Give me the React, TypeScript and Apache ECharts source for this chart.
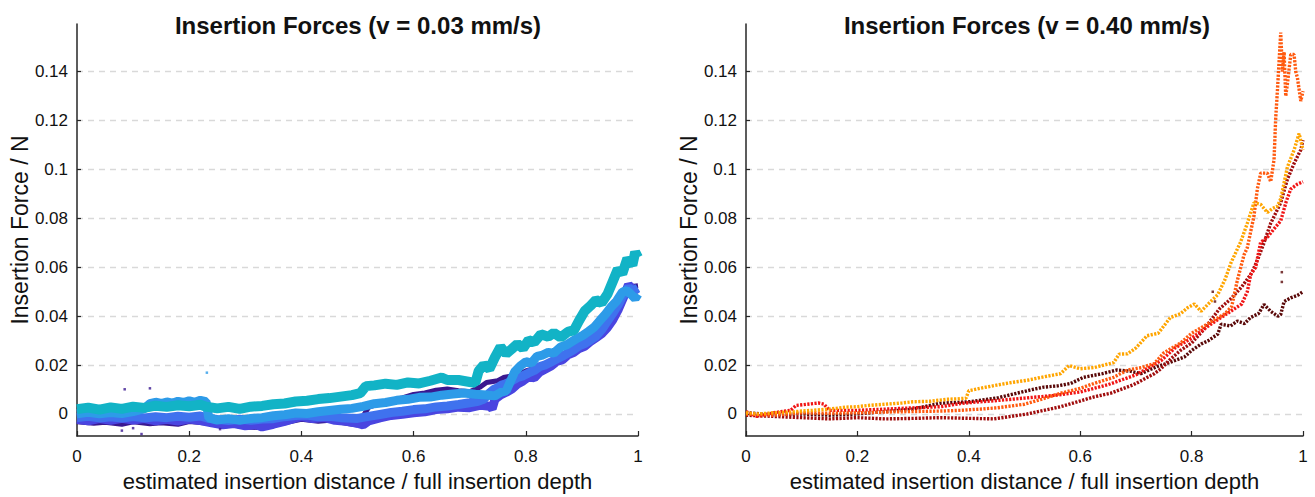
import React, { useEffect, useRef } from "react";
import * as echarts from "echarts";

type Pt = [number, number];

const TITLE_LEFT = "Insertion Forces (v = 0.03 mm/s)";
const TITLE_RIGHT = "Insertion Forces (v = 0.40 mm/s)";
const X_NAME = "estimated insertion distance / full insertion depth";
const Y_NAME = "Insertion Force / N";

const X_MIN = 0;
const X_MAX = 1;
const X_STEP = 0.2;
const Y_MIN = -0.009;
const Y_MAX = 0.1595;
const Y_STEP = 0.02;

// ---- v = 0.03 mm/s (blue family) ----
const slowIndigo: Pt[] = [
  [0, -0.0032], [0.03, -0.0038], [0.05, -0.0034], [0.08, -0.0042], [0.1, -0.0032], [0.13, -0.004],
  [0.15, -0.0036], [0.18, -0.0042], [0.2, -0.0031], [0.23, -0.0037], [0.26, -0.0049], [0.28, -0.0045],
  [0.3, -0.0053], [0.33, -0.0056], [0.35, -0.0046], [0.37, -0.0036], [0.4, -0.0022], [0.43, -0.003],
  [0.45, -0.0026], [0.48, -0.0038], [0.5, -0.0045], [0.52, 0.0028], [0.54, 0.0042], [0.56, 0.0056],
  [0.58, 0.0066], [0.6, 0.008], [0.62, 0.0086], [0.64, 0.0097], [0.66, 0.0102], [0.68, 0.0095],
  [0.7, 0.0091], [0.72, 0.0112], [0.73, 0.0129], [0.75, 0.0136], [0.76, 0.0149], [0.78, 0.0157],
  [0.8, 0.0176], [0.82, 0.019], [0.85, 0.0216], [0.87, 0.0242], [0.9, 0.0292], [0.92, 0.0316],
  [0.95, 0.0396], [0.97, 0.0452], [0.98, 0.0496], [0.99, 0.0522], [1.0, 0.0525],
];
const slowViolet: Pt[] = [
  [0, -0.0022], [0.02, -0.0028], [0.04, -0.0019], [0.06, -0.0026], [0.08, -0.0018], [0.1, -0.0025],
  [0.12, -0.0019], [0.14, -0.0028], [0.16, -0.0022], [0.18, -0.0029], [0.2, -0.0021], [0.22, -0.0027],
  [0.24, -0.0036], [0.26, -0.0044], [0.28, -0.0039], [0.3, -0.0048], [0.32, -0.0044], [0.33, -0.0053],
  [0.35, -0.0042], [0.37, -0.003], [0.39, -0.0016], [0.4, -0.0011], [0.42, -0.0019], [0.44, -0.0014],
  [0.46, -0.0026], [0.48, -0.003], [0.5, -0.0038], [0.51, -0.0045], [0.52, -0.0028], [0.54, -0.0016],
  [0.56, -0.0006], [0.58, -0.0001], [0.6, 0.0005], [0.62, 0.0009], [0.64, 0.0018], [0.66, 0.0021],
  [0.68, 0.0028], [0.7, 0.0026], [0.72, 0.0036], [0.735, 0.0032], [0.74, 0.0022], [0.745, 0.006],
  [0.755, 0.0078], [0.765, 0.0089], [0.775, 0.0102], [0.785, 0.0122], [0.795, 0.0135], [0.805, 0.0152],
  [0.815, 0.0148], [0.825, 0.0172], [0.835, 0.0184], [0.845, 0.0196], [0.855, 0.0215], [0.865, 0.0221],
  [0.875, 0.0242], [0.885, 0.0251], [0.895, 0.0268], [0.905, 0.0277], [0.915, 0.0296], [0.925, 0.0312],
  [0.935, 0.0328], [0.945, 0.0352], [0.955, 0.0385], [0.965, 0.0428], [0.975, 0.0482], [0.983, 0.0528],
  [0.99, 0.0512], [0.995, 0.0488], [1.0, 0.049],
];
const slowRoyal: Pt[] = [
  [0, -0.0015], [0.02, -0.0009], [0.04, -0.0016], [0.06, -0.0011], [0.08, -0.0017], [0.1, -0.001],
  [0.12, -0.0016], [0.14, -0.0011], [0.16, -0.0015], [0.18, -0.0009], [0.2, -0.0013], [0.22, -0.0008],
  [0.235, -0.0018], [0.25, -0.0022], [0.27, -0.0027], [0.29, -0.0021], [0.31, -0.0026], [0.33, -0.0021],
  [0.35, -0.0019], [0.37, -0.0011], [0.39, -0.0006], [0.41, -0.0004], [0.43, -0.0011], [0.45, -0.0009],
  [0.47, -0.0015], [0.5, -0.0018], [0.52, -0.001], [0.54, -0.0002], [0.56, 0.0006], [0.58, 0.0011],
  [0.6, 0.0018], [0.62, 0.0021], [0.64, 0.0029], [0.66, 0.0033], [0.68, 0.0039], [0.7, 0.0046],
  [0.715, 0.0052], [0.725, 0.006], [0.735, 0.0085], [0.743, 0.0101], [0.75, 0.0108], [0.757, 0.0118],
  [0.765, 0.0124], [0.775, 0.0136], [0.785, 0.0149], [0.795, 0.0156], [0.805, 0.0168], [0.815, 0.0178],
  [0.825, 0.0194], [0.835, 0.0201], [0.845, 0.0213], [0.855, 0.0225], [0.865, 0.0236], [0.875, 0.0249],
  [0.885, 0.0262], [0.895, 0.0279], [0.905, 0.0288], [0.915, 0.0302], [0.925, 0.0318], [0.935, 0.0344],
  [0.945, 0.0378], [0.955, 0.0412], [0.965, 0.0448], [0.975, 0.0492], [0.983, 0.0518], [0.99, 0.0502],
  [1.0, 0.0515],
];
const slowDodger: Pt[] = [
  [0, 0.0001], [0.02, 0.0007], [0.04, 0.0001], [0.06, 0.0006], [0.08, 0.0002], [0.1, 0.001],
  [0.12, 0.0022], [0.13, 0.0042], [0.14, 0.0048], [0.15, 0.0043], [0.16, 0.0049], [0.17, 0.0044],
  [0.18, 0.0052], [0.19, 0.0047], [0.2, 0.0054], [0.21, 0.0048], [0.22, 0.0056], [0.23, 0.0051],
  [0.235, -0.0016], [0.25, -0.0025], [0.27, -0.0019], [0.29, -0.0026], [0.31, -0.0018], [0.33, -0.0015],
  [0.35, -0.0007], [0.37, -0.0003], [0.39, 0.0004], [0.41, 0.0002], [0.43, 0.0009], [0.45, 0.0014],
  [0.47, 0.0019], [0.49, 0.0023], [0.51, 0.0031], [0.53, 0.0042], [0.55, 0.0047], [0.57, 0.0056],
  [0.59, 0.006], [0.61, 0.0068], [0.63, 0.0069], [0.65, 0.0077], [0.67, 0.0082], [0.69, 0.0086],
  [0.71, 0.0081], [0.73, 0.0078], [0.745, 0.0074], [0.755, 0.0088], [0.765, 0.0094], [0.772, 0.013],
  [0.78, 0.0172], [0.79, 0.0196], [0.8, 0.0214], [0.81, 0.0208], [0.82, 0.0236], [0.83, 0.0241],
  [0.84, 0.0252], [0.85, 0.0249], [0.862, 0.0274], [0.872, 0.0282], [0.882, 0.0296], [0.892, 0.031],
  [0.902, 0.0322], [0.912, 0.0338], [0.922, 0.0355], [0.932, 0.0382], [0.942, 0.0408], [0.952, 0.0438],
  [0.962, 0.0462], [0.972, 0.0498], [0.98, 0.0505], [0.988, 0.0488], [0.995, 0.0472], [1.0, 0.049],
];
const slowCyan: Pt[] = [
  [0, 0.002], [0.02, 0.0026], [0.04, 0.0018], [0.06, 0.0027], [0.08, 0.0021], [0.1, 0.003],
  [0.12, 0.0025], [0.14, 0.0034], [0.16, 0.0029], [0.18, 0.0036], [0.2, 0.0032], [0.22, 0.0038],
  [0.23, 0.003], [0.25, 0.0023], [0.27, 0.0029], [0.29, 0.0021], [0.31, 0.003], [0.33, 0.0033],
  [0.35, 0.004], [0.37, 0.0043], [0.39, 0.0051], [0.41, 0.0054], [0.43, 0.0061], [0.45, 0.0065],
  [0.47, 0.0071], [0.49, 0.0077], [0.505, 0.0085], [0.515, 0.0114], [0.53, 0.0117], [0.55, 0.0124],
  [0.57, 0.0119], [0.59, 0.0129], [0.61, 0.0125], [0.63, 0.0136], [0.65, 0.0149], [0.66, 0.0139],
  [0.68, 0.0139], [0.7, 0.0131], [0.71, 0.0127], [0.716, 0.0176], [0.725, 0.0201], [0.735, 0.0184],
  [0.745, 0.0232], [0.755, 0.0274], [0.765, 0.0246], [0.775, 0.0266], [0.785, 0.0287], [0.795, 0.0268],
  [0.805, 0.0302], [0.815, 0.0293], [0.827, 0.0326], [0.84, 0.0316], [0.85, 0.0332], [0.862, 0.0313],
  [0.875, 0.0336], [0.886, 0.0343], [0.895, 0.0382], [0.905, 0.0421], [0.915, 0.0442], [0.925, 0.0466],
  [0.935, 0.0454], [0.946, 0.0492], [0.955, 0.0542], [0.964, 0.0592], [0.972, 0.0574], [0.981, 0.0636],
  [0.99, 0.0608], [0.995, 0.0662], [1.0, 0.064],
];
const slowOutliersDark: Pt[] = [
  [0.085, 0.0101], [0.13, 0.0105], [0.08, -0.0068], [0.115, -0.0082], [0.1, -0.0058], [0.255, -0.0062],
];
const slowOutliersLight: Pt[] = [[0.2315, 0.0169]];

// ---- v = 0.40 mm/s (red family) ----
const fastDarkest: Pt[] = [
  [0, 0.0005], [0.05, -0.0003], [0.1, 0.0], [0.15, -0.0005], [0.2, 0.0], [0.25, 0.001],
  [0.3, 0.002], [0.349, 0.0044], [0.4, 0.005], [0.45, 0.0065], [0.51, 0.0098], [0.535, 0.011],
  [0.56, 0.0115], [0.583, 0.0125], [0.606, 0.015], [0.64, 0.0165], [0.666, 0.018], [0.69, 0.0175],
  [0.709, 0.0165], [0.739, 0.0195], [0.76, 0.021], [0.787, 0.0233], [0.8, 0.026], [0.817, 0.0286],
  [0.83, 0.03], [0.847, 0.0327], [0.853, 0.0367], [0.87, 0.036], [0.882, 0.038], [0.895, 0.037],
  [0.906, 0.0395], [0.92, 0.041], [0.93, 0.0448], [0.942, 0.042], [0.955, 0.04], [0.96, 0.0407],
  [0.966, 0.046], [0.978, 0.0475], [0.99, 0.0485], [1.0, 0.05],
];
const fastDarkRed: Pt[] = [
  [0, -0.0005], [0.05, -0.001], [0.1, -0.0015], [0.15, -0.002], [0.2, -0.0015], [0.25, -0.002],
  [0.3, -0.0018], [0.35, -0.0015], [0.385, -0.0017], [0.445, -0.002], [0.505, 0.0], [0.565, 0.003],
  [0.625, 0.007], [0.655, 0.0085], [0.696, 0.012], [0.733, 0.0165], [0.745, 0.0185], [0.76, 0.022],
  [0.78, 0.026], [0.8, 0.029], [0.82, 0.034], [0.84, 0.04], [0.85, 0.043], [0.87, 0.047],
  [0.89, 0.052], [0.906, 0.057], [0.912, 0.0597], [0.92, 0.064], [0.93, 0.07], [0.942, 0.078],
  [0.96, 0.0864], [0.972, 0.096], [0.984, 0.1025], [0.996, 0.108], [1.0, 0.112],
];
const fastRed: Pt[] = [
  [0, 0.001], [0.02, -0.001], [0.05, 0.0005], [0.08, 0.0015], [0.09, 0.0035], [0.11, 0.004],
  [0.13, 0.0045], [0.14, 0.004], [0.15, 0.0015], [0.2, 0.0015], [0.25, 0.002], [0.3, 0.0025],
  [0.35, 0.003], [0.385, 0.0043], [0.42, 0.005], [0.45, 0.0055], [0.5, 0.0065], [0.55, 0.0075],
  [0.6, 0.009], [0.65, 0.012], [0.7, 0.016], [0.745, 0.0218], [0.77, 0.027], [0.8, 0.031],
  [0.83, 0.036], [0.85, 0.039], [0.87, 0.042], [0.89, 0.045], [0.9, 0.05], [0.906, 0.057],
  [0.915, 0.06], [0.924, 0.0703], [0.935, 0.072], [0.948, 0.0757], [0.96, 0.079], [0.97, 0.087],
  [0.978, 0.092], [0.99, 0.094], [1.0, 0.095],
];
const fastOrangeRed: Pt[] = [
  [0, 0.0], [0.05, -0.0005], [0.1, 0.0005], [0.15, 0.0003], [0.2, 0.0005], [0.25, 0.0008],
  [0.3, 0.001], [0.35, 0.0012], [0.385, 0.0015], [0.42, 0.002], [0.45, 0.0025], [0.5, 0.004],
  [0.53, 0.006], [0.565, 0.0085], [0.6, 0.0105], [0.625, 0.0125], [0.66, 0.015], [0.685, 0.018],
  [0.71, 0.019], [0.733, 0.0206], [0.75, 0.025], [0.78, 0.029], [0.8, 0.033], [0.83, 0.037],
  [0.86, 0.041], [0.872, 0.044], [0.882, 0.0545], [0.894, 0.065], [0.9, 0.068], [0.912, 0.081],
  [0.918, 0.092], [0.924, 0.0985], [0.936, 0.0985], [0.942, 0.095], [0.948, 0.104], [0.951, 0.121],
  [0.954, 0.132], [0.96, 0.156], [0.963, 0.14], [0.966, 0.148], [0.969, 0.13], [0.972, 0.135],
  [0.978, 0.147], [0.984, 0.147], [0.987, 0.14], [0.99, 0.1375], [0.996, 0.128], [1.0, 0.132],
];
const fastOrange: Pt[] = [
  [0, 0.0005], [0.02, 0.0], [0.05, 0.0005], [0.08, 0.0008], [0.1, 0.0012], [0.12, 0.0015],
  [0.15, 0.002], [0.18, 0.0028], [0.2, 0.003], [0.22, 0.0035], [0.25, 0.004], [0.28, 0.0045],
  [0.3, 0.005], [0.33, 0.0052], [0.36, 0.006], [0.38, 0.0062], [0.395, 0.0065], [0.4, 0.0095],
  [0.42, 0.0105], [0.45, 0.0118], [0.48, 0.013], [0.505, 0.0138], [0.53, 0.015], [0.565, 0.0165],
  [0.58, 0.0198], [0.6, 0.0185], [0.625, 0.019], [0.66, 0.021], [0.67, 0.0245], [0.685, 0.0246],
  [0.7, 0.027], [0.72, 0.032], [0.74, 0.033], [0.762, 0.0395], [0.78, 0.041], [0.793, 0.0435],
  [0.805, 0.045], [0.817, 0.042], [0.83, 0.045], [0.847, 0.0488], [0.86, 0.055], [0.871, 0.062],
  [0.888, 0.0703], [0.9, 0.078], [0.912, 0.0864], [0.924, 0.0857], [0.936, 0.0824], [0.945, 0.084],
  [0.954, 0.085], [0.96, 0.088], [0.972, 0.101], [0.984, 0.108], [0.993, 0.1147], [1.0, 0.108],
];
const fastOutliersDark: Pt[] = [[0.838, 0.05], [0.842, 0.046], [0.962, 0.058], [0.962, 0.054]];

const FONT = "'Liberation Sans Narrow', 'Arial Narrow', 'Liberation Sans', Arial, sans-serif";
const AXIS_COLOR = "#262626";

function xAxisFor(gridIndex: number) {
  return {
    type: "value",
    gridIndex,
    min: X_MIN,
    max: X_MAX,
    interval: X_STEP,
    name: X_NAME,
    nameLocation: "middle",
    nameGap: 34,
    nameTextStyle: { fontFamily: FONT, fontSize: 22, color: "#111" },
    axisLine: { show: true, onZero: false, lineStyle: { color: AXIS_COLOR, width: 1.5 } },
    axisTick: { show: true, inside: true, length: 5, lineStyle: { color: AXIS_COLOR, width: 1.2 } },
    axisLabel: { fontFamily: FONT, fontSize: 17, color: "#111", margin: 12 },
    splitLine: { show: false },
  };
}

function yAxisFor(gridIndex: number) {
  return {
    type: "value",
    gridIndex,
    min: Y_MIN,
    max: Y_MAX,
    minInterval: Y_STEP,
    maxInterval: Y_STEP,
    splitNumber: 8,
    name: Y_NAME,
    nameLocation: "middle",
    nameGap: 45,
    nameRotate: 90,
    nameTextStyle: { fontFamily: FONT, fontSize: 23, color: "#111" },
    axisLine: { show: true, onZero: false, lineStyle: { color: AXIS_COLOR, width: 1.5 } },
    axisTick: { show: true, inside: true, length: 4, lineStyle: { color: AXIS_COLOR, width: 1.2 } },
    axisLabel: {
      fontFamily: FONT,
      fontSize: 17,
      color: "#111",
      margin: 9,
      showMinLabel: false,
      showMaxLabel: false,
      formatter: (v: number) => String(Math.round(v * 1000) / 1000),
    },
    splitLine: {
      show: true,
      showMinLine: false,
      showMaxLine: false,
      lineStyle: { color: "#d9d9d9", type: [6, 5], width: 1.3 },
    },
  };
}

function band(data: Pt[], color: string, idx: number, width: number) {
  return {
    type: "line",
    xAxisIndex: idx,
    yAxisIndex: idx,
    data,
    showSymbol: false,
    symbol: "none",
    lineStyle: { color, width, join: "bevel" },
    z: 2,
  };
}

function dots(data: Pt[], color: string, idx: number) {
  return {
    type: "line",
    xAxisIndex: idx,
    yAxisIndex: idx,
    data,
    showSymbol: false,
    symbol: "none",
    lineStyle: { color, width: 3.4, type: [2.2, 1.4] },
    z: 2,
  };
}

function scatter(data: Pt[], color: string, idx: number) {
  return {
    type: "scatter",
    xAxisIndex: idx,
    yAxisIndex: idx,
    data,
    symbol: "rect",
    symbolSize: 2.5,
    itemStyle: { color },
    z: 3,
  };
}

export default function App() {
  const ref = useRef<HTMLDivElement>(null);
  useEffect(() => {
    if (!ref.current) return;
    const chart = echarts.init(ref.current, undefined, { renderer: "svg" });
    const titleStyle = { fontFamily: FONT, fontSize: 24, fontWeight: "bold", color: "#111" };
    chart.setOption({
      animation: false,
      backgroundColor: "#ffffff",
      title: [
        { text: TITLE_LEFT, left: 358, top: 13, padding: 0, textAlign: "center", textStyle: titleStyle },
        { text: TITLE_RIGHT, left: 1027, top: 13, padding: 0, textAlign: "center", textStyle: titleStyle },
      ],
      grid: [
        { left: 77, top: 24, width: 561, height: 419, containLabel: false },
        { left: 746, top: 24, width: 557, height: 419, containLabel: false },
      ],
      xAxis: [xAxisFor(0), xAxisFor(1)],
      yAxis: [yAxisFor(0), yAxisFor(1)],
      series: [
        band(slowIndigo, "#3A1890", 0, 5),
        band(slowViolet, "#4A45E0", 0, 9),
        band(slowRoyal, "#3F72EE", 0, 9),
        band(slowDodger, "#2D9BE8", 0, 9),
        band(slowCyan, "#12B3C6", 0, 10),
        scatter(slowOutliersDark, "#3A1890", 0),
        scatter(slowOutliersLight, "#2D9BE8", 0),
        dots(fastDarkest, "#5A0808", 1),
        dots(fastDarkRed, "#A00D0D", 1),
        dots(fastRed, "#F01414", 1),
        dots(fastOrangeRed, "#FF5A0F", 1),
        dots(fastOrange, "#FFA500", 1),
        scatter(fastOutliersDark, "#5A0808", 1),
      ],
    });
    return () => chart.dispose();
  }, []);
  return (
    <div
      ref={ref}
      style={{ position: "fixed", left: 0, top: 0, width: 1315, height: 497, background: "#fff" }}
    />
  );
}
